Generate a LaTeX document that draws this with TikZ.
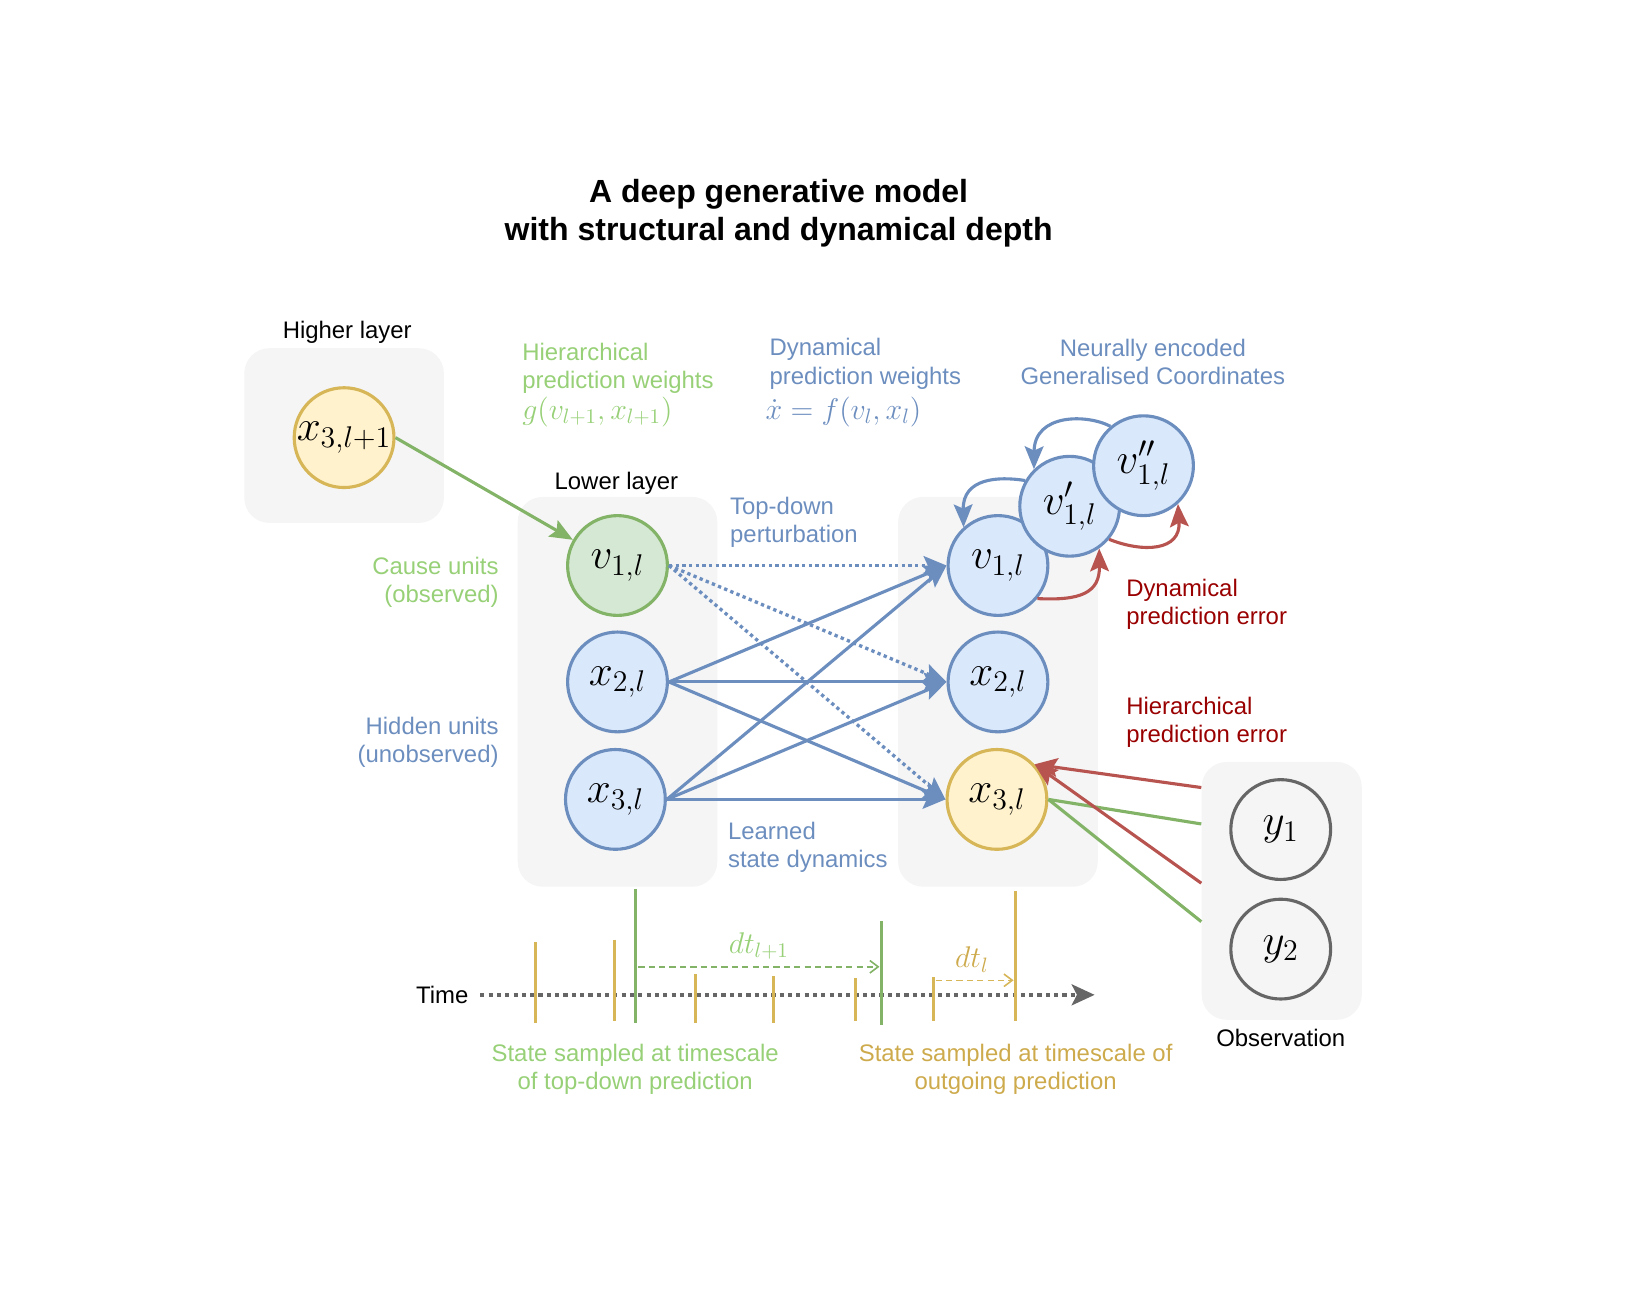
\documentclass[tikz,border=0pt]{standalone}
\usepackage[no-math]{fontspec}
\setmainfont{Liberation Sans}
\usetikzlibrary{arrows.meta,calc}
\definecolor{boxgray}{HTML}{F5F5F5}
\definecolor{cblue}{HTML}{6C8EBF}
\definecolor{fblue}{HTML}{DAE8FC}
\definecolor{cgreen}{HTML}{82B366}
\definecolor{fgreen}{HTML}{D5E8D4}
\definecolor{cyellow}{HTML}{D6B656}
\definecolor{fyellow}{HTML}{FFF2CC}
\definecolor{cred}{HTML}{B85450}
\definecolor{tred}{HTML}{990000}
\definecolor{tgreen}{HTML}{97D077}
\definecolor{cgray}{HTML}{666666}
\definecolor{tyellow}{HTML}{CDAA4C}
\begin{document}
\begin{tikzpicture}[x=0.5pt,y=-0.5pt,
  graybox/.style={fill=boxgray, draw=none, rounded corners=12pt, inner sep=0pt},
  circ/.style={circle, minimum size=48pt, inner sep=0pt, line width=1.5pt, font=\fontsize{20}{22}\selectfont},
  bluec/.style={circ, draw=cblue, fill=fblue},
  greenc/.style={circ, draw=cgreen, fill=fgreen},
  yellowc/.style={circ, draw=cyellow, fill=fyellow},
  grayc/.style={circ, draw=cgray, fill=boxgray},
  lab/.style={font=\fontsize{11.5}{13.5}\selectfont, inner sep=0pt},
  mlab/.style={font=\fontsize{14.5}{16}\selectfont, inner sep=0pt},
  tip/.style={-{Stealth[length=11pt,width=9pt,inset=2pt]}},
  barr/.style={draw=cblue, line width=1.5pt, tip},
  bdot/.style={draw=cblue, line width=1.6pt, dash pattern=on 1.6pt off 1.6pt, tip},
  garr/.style={draw=cgreen, line width=1.5pt, tip},
  rarr/.style={draw=cred, line width=1.5pt, tip},
  gline/.style={draw=cgreen, line width=1.5pt},
  ytick/.style={draw=cyellow, line width=1.5pt},
  gtick/.style={draw=cgreen, line width=1.5pt},
  timeline/.style={draw=cgray, line width=2pt, dash pattern=on 2pt off 2pt, -{Stealth[length=11pt,width=10pt,inset=2.5pt]}},
  dtarr/.style={line width=0.75pt, dash pattern=on 3pt off 2pt, -{Straight Barb[length=4pt,width=6pt]}}
]
\useasboundingbox (0,0) rectangle (1568,1256);

% title
\node[font=\fontsize{15.4}{18.5}\selectfont\bfseries, align=center, inner sep=0pt] (title) at (749,205) {A deep generative model\\with structural and dynamical depth};

% containers
\node[graybox, minimum width=96pt, minimum height=84pt] (hbox) at (331,419) {};
\node[graybox, minimum width=96pt, minimum height=187.5pt] (lbox) at (594,665.5) {};
\node[graybox, minimum width=96pt, minimum height=187.5pt] (rbox) at (960,665.5) {};
\node[graybox, minimum width=77pt, minimum height=124pt] (obs) at (1233,857) {};

\node[lab] (hlab) at (334,320) {Higher layer};
\node[lab] (llab) at (593,465) {Lower layer};
\node[lab] (olab) at (1232,998) {Observation};

% labels
\node[lab, text=tgreen, align=left, anchor=west] (hw) at (502,354) {Hierarchical\\prediction weights};
\node[mlab, text=tgreen, anchor=west] (hwm) at (502,396) {$g(v_{l+1},x_{l+1})$};
\node[lab, text=cblue, align=left, anchor=west] (dw) at (740,350) {Dynamical\\prediction weights};
\node[mlab, text=cblue, anchor=west] (dwm) at (736,396) {$\dot{x}=f(v_l,x_l)$};
\node[lab, text=cblue, align=center] (gc) at (1109,348) {Neurally encoded\\Generalised Coordinates};
\node[lab, text=cblue, align=left, anchor=west] (td) at (702,502.5) {Top-down\\perturbation};
\node[lab, text=tgreen, align=right, anchor=east] (cu) at (480,560) {Cause units\\(observed)};
\node[lab, text=cblue, align=right, anchor=east] (hu) at (480,714) {Hidden units\\(unobserved)};
\node[lab, text=tred, align=left, anchor=west] (dpe) at (1083,581) {Dynamical\\prediction error};
\node[lab, text=tred, align=left, anchor=west] (hpe) at (1083,695) {Hierarchical\\prediction error};
\node[lab, text=cblue, align=left, anchor=west] (lsd) at (700,815.5) {Learned\\state dynamics};
\node[lab, anchor=east] (time) at (451,957) {Time};
\node[lab, text=tgreen, align=center] (bl1) at (611,1029) {State sampled at timescale\\of top-down prediction};
\node[lab, text=tyellow, align=center] (bl2) at (977,1029) {State sampled at timescale of\\outgoing prediction};

% nodes
\node[yellowc] (Xtop) at (331,421) {$x_{3,l+1}$};
\node[greenc] (LV) at (594,544) {$v_{1,l}$};
\node[bluec] (LX2) at (594,656) {$x_{2,l}$};
\node[bluec] (LX3) at (592,769) {$x_{3,l}$};
\node[bluec] (RV) at (960,544) {$v_{1,l}$};
\node[bluec] (RVp) at (1029,487) {$v'_{1,l}$};
\node[bluec] (RVpp) at (1100,448) {$v''_{1,l}$};
\node[bluec] (RX2) at (960,656) {$x_{2,l}$};
\node[yellowc] (RX3) at (959,769) {$x_{3,l}$};
\node[grayc] (Y1) at (1232,798) {$y_1$};
\node[grayc] (Y2) at (1232,913) {$y_2$};

% edges
\draw[garr] (Xtop.east) -- (LV);
\draw[bdot] (LV.east) -- (RV.west);
\draw[bdot] (LV.east) -- (RX2.west);
\draw[bdot] (LV.east) -- (RX3.west);
\draw[barr] (LX2.east) -- (RV.west);
\draw[barr] (LX2.east) -- (RX2.west);
\draw[barr] (LX2.east) -- (RX3.west);
\draw[barr] (LX3.east) -- (RV.west);
\draw[barr] (LX3.east) -- (RX2.west);
\draw[barr] (LX3.east) -- (RX3.west);

% generalised coordinate loops
\draw[barr] (RVpp.130) .. controls (1045,398) and (995,398) .. (RVp.134);
\draw[barr] (RVp.150) .. controls (960,458) and (926,460) .. (RV.132);
\draw[rarr] (RV.-40) .. controls (1040,578) and (1058,570) .. (RVp.-55);
\draw[rarr] (RVp.-40) .. controls (1100,532) and (1136,530) .. (RVpp.-48);

% observation edges
\coordinate (o1) at ($(obs.north west)+(0,25)$);
\coordinate (o2) at ($(obs.north west)+(0,60)$);
\coordinate (o3) at ($(obs.north west)+(0,117)$);
\coordinate (o4) at ($(obs.north west)+(0,154)$);
\draw[gline] (o2) -- (RX3.east);
\draw[gline] (o4) -- (RX3.east);
\draw[rarr] (o1) -- (RX3.43);
\draw[rarr] (o3) -- (RX3.43);

% timeline
\coordinate (t0) at (462,957);
\coordinate (t1) at (1053,957);
\draw[timeline] (t0) -- (t1);
\draw[ytick] (515,906) -- (515,984);
\draw[ytick] (591,904) -- (591,982);
\draw[ytick] (669,937) -- (669,984);
\draw[ytick] (744,939) -- (744,984);
\draw[ytick] (823,941) -- (823,982);
\draw[ytick] (898,940) -- (898,982);
\draw[ytick] (977,857) -- (977,982);
\draw[gtick] (611,855) -- (611,984);
\draw[gtick] (848,886) -- (848,986);
\coordinate (d0) at (614,930);
\coordinate (d1) at (846,930);
\draw[dtarr, draw=cgreen] (d0) -- (d1);
\node[mlab, text=tgreen] (dtl1) at (730,910) {$dt_{l+1}$};
\coordinate (e0) at (900,943);
\coordinate (e1) at (975,943);
\draw[dtarr, draw=cyellow] (e0) -- (e1);
\node[mlab, text=tyellow] (dtl) at (935,923) {$dt_l$};
\end{tikzpicture}
\end{document}
